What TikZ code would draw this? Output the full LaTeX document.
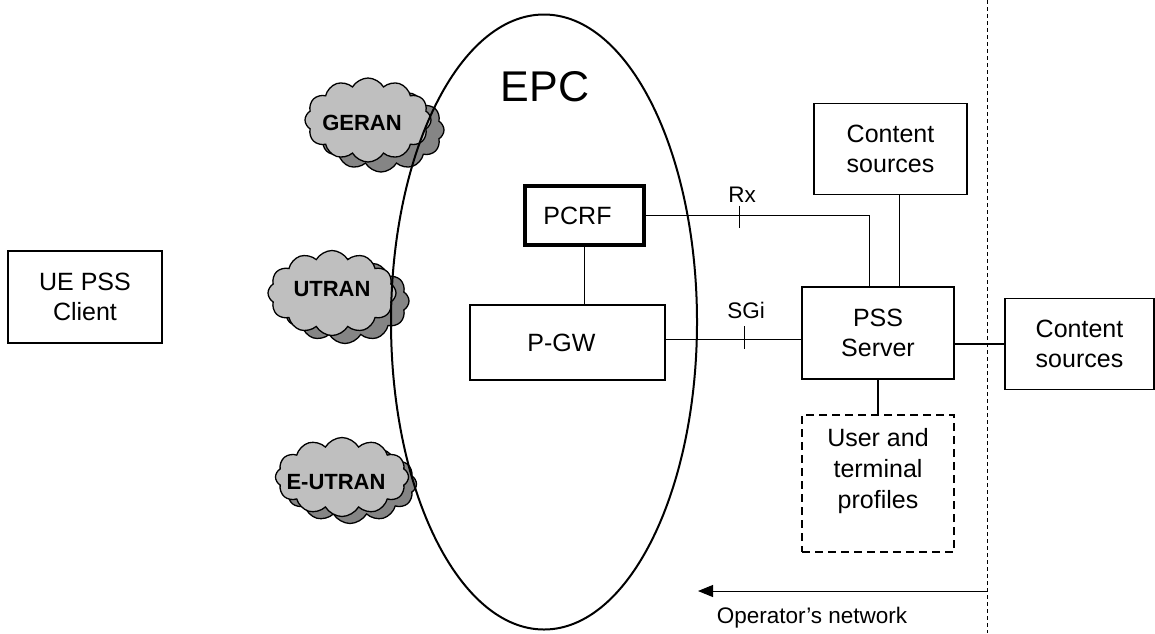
\documentclass[tikz,border=0pt]{standalone}
\usepackage{fontspec}
\setmainfont{Liberation Sans}
\usetikzlibrary{shapes.geometric,shapes.symbols,arrows.meta}
\begin{document}
\begin{tikzpicture}[x=1pt,y=-1pt,
  box/.style={draw,line width=1.8pt,align=center,inner sep=0pt,
    font=\fontsize{25}{30.5}\selectfont},
  thin/.style={line width=1pt},
  mid/.style={line width=2pt},
  lbl/.style={font=\fontsize{22.5}{26}\selectfont,inner sep=0pt},
  cloudfront/.style={cloud,cloud puffs=12,cloud puff arc=120,draw,line width=1.3pt,fill=black!25,inner sep=0pt},
  cloudback/.style={cloud,cloud puffs=12,cloud puff arc=120,draw,line width=1.3pt,fill=black!48,inner sep=0pt},
  cloudtext/.style={font=\bfseries\fontsize{22}{24}\selectfont,inner sep=0pt}]
\useasboundingbox (0,0) rectangle (1155,633);

% clouds
\node[cloudback,minimum width=126pt,minimum height=84pt] (gerb) at (381,130) {};
\node[cloudfront,minimum width=126pt,minimum height=84pt] (gerf) at (368,120) {};
\node[cloudtext] (gert) at (362,123) {GERAN};

\node[cloudback,minimum width=128pt,minimum height=85pt] (utrb) at (345,301) {};
\node[cloudfront,minimum width=128pt,minimum height=85pt] (utrf) at (332,293) {};
\node[cloudtext] (utrt) at (332,289) {UTRAN};

\node[cloudback,minimum width=133pt,minimum height=79pt] (eutb) at (350,484) {};
\node[cloudfront,minimum width=133pt,minimum height=79pt] (eutf) at (342,477) {};
\node[cloudtext] (eutt) at (336,482) {E-UTRAN};

% EPC ellipse
\node[ellipse,draw,line width=2pt,minimum width=306pt,minimum height=615pt,inner sep=0pt] (epc) at (544,322) {};
\node[font=\fontsize{43}{48}\selectfont,inner sep=0pt] (epct) at (545,87) {EPC};

% boxes
\node[box,minimum width=154pt,minimum height=92pt] (ue) at (85,297) {UE PSS\\Client};
\node[box,minimum width=153pt,minimum height=91pt] (cs1) at (890.5,149) {Content\\sources};
\node[box,minimum width=149pt,minimum height=91pt] (cs2) at (1079.5,344) {Content\\sources};
\node[box,minimum width=152pt,minimum height=92pt] (pss) at (878,333) {PSS\\Server};
\node[box,line width=3.8pt,minimum width=119pt,minimum height=59pt] (pcrf) at (584.5,215.5) {\hspace*{-14pt}PCRF};
\node[box,minimum width=195pt,minimum height=75pt] (pgw) at (567.5,342.5) {\hspace*{-12pt}P-GW};
\node[draw,line width=2pt,dash pattern=on 8pt off 5pt,minimum width=152pt,minimum height=137pt,inner sep=0pt] (prof) at (878,483.5) {};
\node[align=center,inner sep=0pt,font=\fontsize{25}{31}\selectfont] (proft) at (878,471) {User and\\terminal\\profiles};

% connectors
\draw[thin] (pcrf) -- (pcrf |- pgw.north);
\draw[thin] (pcrf.east) -| ([xshift=-9pt]pss.north);
\draw[thin] ([xshift=8.5pt]cs1.south) -- ([xshift=8.5pt]cs1.south |- pss.north);
\draw[thin] ([yshift=3.5pt]pgw.east) -- ([yshift=3.5pt]pgw.east -| pss.west);
\draw[mid] ([yshift=-11pt]pss.east) -- ([yshift=-11pt]pss.east -| cs2.west);
\draw[mid] (pss.south) -- (prof.north);

% ticks
\coordinate (rxt) at (739,215.5);
\coordinate (sgt) at (744,339);
\draw[thin] ([yshift=10pt]rxt) -- ([yshift=-12pt]rxt);
\draw[thin] ([yshift=13pt]sgt) -- ([yshift=-10pt]sgt);
\node[lbl] (rx) at (742,195) {Rx};
\node[lbl] (sgi) at (746,310) {SGi};

% operator boundary
\coordinate (btop) at (987,0);
\coordinate (bbot) at (987,633);
\draw[line width=1pt,dash pattern=on 4pt off 3pt] (btop) -- (bbot);
\coordinate (arrs) at (987,591);
\coordinate (arre) at (698,591);
\draw[line width=1pt,-{Triangle[length=15pt,width=12pt]}] (arrs) -- (arre);
\node[lbl] (opn) at (812,618) {Operator’s network};
\end{tikzpicture}
\end{document}
